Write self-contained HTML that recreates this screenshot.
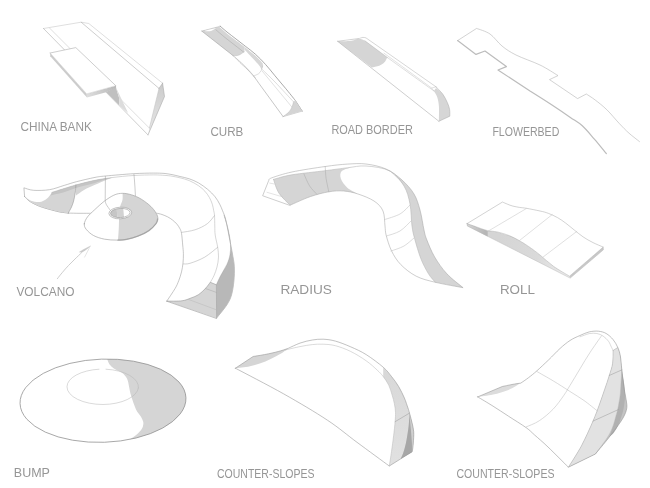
<!DOCTYPE html>
<html lang="en">
<head>
<meta charset="utf-8">
<title>Skatepark elements</title>
<style>
html,body{margin:0;padding:0;background:#fff;}
body{width:650px;height:488px;overflow:hidden;}
svg{display:block;}
text{font-family:"Liberation Sans",sans-serif;font-weight:400;}
path{stroke-linejoin:round;stroke-linecap:round;}
</style>
</head>
<body>
<svg width="650" height="488" viewBox="0 0 650 488">
<defs>
<linearGradient id="gl" x1="0" y1="0" x2="1" y2="0"><stop offset="0" stop-color="#dedede"/><stop offset="1" stop-color="#b8b8b8"/></linearGradient>
<linearGradient id="gf" x1="0" y1="0" x2="0" y2="1"><stop offset="0" stop-color="#cbcbcb"/><stop offset="1" stop-color="#e8e8e8"/></linearGradient>
<linearGradient id="gs" x1="0" y1="0" x2="0" y2="1"><stop offset="0" stop-color="#d8d8d8"/><stop offset="1" stop-color="#e1e1e1"/></linearGradient>
<linearGradient id="gr" x1="0" y1="0" x2="1" y2="0.4"><stop offset="0" stop-color="#d6d6d6"/><stop offset="1" stop-color="#b6b6b6"/></linearGradient>
<linearGradient id="grs" gradientUnits="userSpaceOnUse" x1="500" y1="238" x2="568" y2="274"><stop offset="0" stop-color="#d5d5d5"/><stop offset="0.55" stop-color="#dadada"/><stop offset="1" stop-color="#ebebeb"/></linearGradient>
</defs>
<rect width="650" height="488" fill="#ffffff"/>
<g id="china-bank">
<path d="M43.5 28.5L81.2 22.2L88.8 23.5L162.6 83.2L164.5 96.5L148 134.9Z" fill="#fff" stroke="none" />
<path d="M159 88.4L162.6 83.2L164.5 96.5L148 134.9L149.4 128.1Z" fill="url(#gf)" stroke="none" />
<path d="M43.5 28.5L81.2 22.2L88.8 23.5L162.6 83.2" fill="none" stroke="#bebebe" stroke-width="0.5" />
<path d="M162.6 83.2L164.5 96.5L148 134.9" fill="none" stroke="#a6a6a6" stroke-width="0.55" />
<path d="M43.5 28.5L148 134.9" fill="none" stroke="#a6a6a6" stroke-width="0.55" />
<path d="M159 88.4L162.6 83.2" fill="none" stroke="#a6a6a6" stroke-width="0.55" />
<path d="M159 88.4L149.4 128.1" fill="none" stroke="#bebebe" stroke-width="0.5" />
<path d="M81.2 22.2L159 88.4" fill="none" stroke="#a6a6a6" stroke-width="0.55" />
<path d="M49.6 28.1L149.4 128.1" fill="none" stroke="#bebebe" stroke-width="0.5" />
<path d="M106.1 91.9L115.8 87L119.4 99L119.4 105.5Z" fill="#c0c0c0" stroke="none" />
<path d="M115.8 87L128.1 112.9L119.4 105.5L119.4 99Z" fill="#dcdcdc" stroke="none" />
<path d="M50.1 53L86.7 93.9L87 97.6L50.3 56.2Z" fill="#cccccc" stroke="none" />
<path d="M86.7 93.9L115.8 85.7L116.2 87.4L106.1 92.2L87 97.6Z" fill="url(#gl)" stroke="none" />
<path d="M50.1 53L75.8 47.6L115.8 85.7L86.7 93.9Z" fill="#fff" stroke="none" />
<path d="M50.1 53L75.8 47.6L115.8 85.7" fill="none" stroke="#a6a6a6" stroke-width="0.55" />
<path d="M50.1 53L86.7 93.9L115.8 85.7" fill="none" stroke="#b6b6b6" stroke-width="0.4" />
</g>
<g id="curb">
<path d="M201.8 31.1L217.2 27.1L220.2 26.2C221.3 27.2 224.4 29.9 227 32C229.6 34.1 232.9 36.6 236 39C239.1 41.4 242.1 43.7 245.3 46.2C248.6 48.8 252.1 51.2 255.5 54.3C258.9 57.3 262.4 60.9 265.6 64.5C268.9 68.1 271.7 71.8 275 75.8C278.3 79.8 282.1 84.2 285.5 88.3C288.9 92.4 293.8 98.5 295.4 100.6L302.2 111.1L283.1 116.6L259 83.5C258.1 82.2 255.5 78.4 253.5 76C251.5 73.6 249.2 71.2 247 69C244.8 66.8 241.8 64.3 240 62.5C238.2 60.7 237.5 59.6 236 58.2C234.5 56.8 231.8 54.7 231 54L201.8 31.1Z" fill="#fff" stroke="none" />
<path d="M201.8 31.1L217.2 27.3L219.5 27.1C220.6 28.1 223.7 30.8 226.3 32.9C228.9 35 232.3 37.6 235.3 39.9C238.3 42.2 242.9 45.5 244.4 46.6L244.4 51.5C243.8 51.9 242.2 53.3 241 54C239.8 54.7 238.8 55.2 237.5 55.5C236.2 55.8 233.9 55.8 233.2 55.9L231 54Z" fill="#d5d5d5" stroke="none" />
<path d="M204 30.9C205 30.9 208 31.6 210 31.2C212 30.8 215.2 28.7 216.2 28.2C215.2 28.3 212 28.2 210 28.6C208 29.1 205 30.5 204 30.9Z" fill="#fff" stroke="none" />
<path d="M244.4 46.6C245.3 47.4 248.2 50 250 51.5C251.8 53 253.5 54 255.2 55.5C256.9 57 258.7 58.9 260 60.2C261.3 61.5 262.3 62.9 262.8 63.4C262.8 63.9 263 65.5 262.8 66.5C262.6 67.5 261.7 68.9 261.5 69.4C261.1 68.7 260.2 66.7 258.8 65C257.4 63.3 255.8 61.7 253.4 59.1C251 56.5 245.9 51.2 244.4 49.6Z" fill="#d7d7d7" stroke="none" />
<path d="M201.8 31.1L231 54C231.8 54.7 234.5 56.8 236 58.2C237.5 59.6 238.2 60.7 240 62.5C241.8 64.3 244.8 66.8 247 69C249.2 71.2 251.5 73.6 253.5 76C255.5 78.4 258.1 82.2 259 83.5L283.1 116.6" fill="none" stroke="#999999" stroke-width="0.55" />
<path d="M201.8 31.1L217.2 27.1L220.2 26.2" fill="none" stroke="#a6a6a6" stroke-width="0.5" />
<path d="M220.2 26.2C221.3 27.2 224.4 29.9 227 32C229.6 34.1 232.9 36.6 236 39C239.1 41.4 242.1 43.7 245.3 46.2C248.6 48.8 252.1 51.2 255.5 54.3C258.9 57.3 262.4 60.9 265.6 64.5C268.9 68.1 271.7 71.8 275 75.8C278.3 79.8 282.1 84.2 285.5 88.3C288.9 92.4 293.8 98.5 295.4 100.6L302.2 111.1" fill="none" stroke="#8e8e8e" stroke-width="0.75" />
<path d="M302.2 111.1L283.1 116.6" fill="none" stroke="#a6a6a6" stroke-width="0.5" />
<path d="M215.9 29.8C217.4 31.1 221.8 34.9 225 37.5C228.2 40.1 231.8 42.8 235 45.3C238.2 47.8 242.4 51.1 243.9 52.3" fill="none" stroke="#a4a4a4" stroke-width="0.5" />
<path d="M262.2 69.5C264.3 71.6 269.8 76.6 275 82C280.2 87.4 290.4 98.5 293.5 101.8" fill="none" stroke="#b6b6b6" stroke-width="0.45" />
<path d="M244.4 51.5C243.8 51.9 242.2 53.3 241 54C239.8 54.7 238.8 55.2 237.5 55.5C236.2 55.8 233.9 55.8 233.2 55.9" fill="none" stroke="#b6b6b6" stroke-width="0.4" />
<path d="M262.6 66C262.4 66.8 261.9 69.2 261.2 70.5C260.5 71.8 259.8 72.9 258.5 73.8C257.2 74.7 254.3 75.6 253.5 76" fill="none" stroke="#b6b6b6" stroke-width="0.45" />
<path d="M262.2 71.1L291.7 106.8" fill="none" stroke="#b6b6b6" stroke-width="0.4" />
<path d="M236 58.2C237.2 59.2 240.8 62 243 64C245.2 66 247.1 68.2 249.2 70.5C251.2 72.8 254.3 76.6 255.3 77.8" fill="none" stroke="#b6b6b6" stroke-width="0.4" />
<path d="M295.4 100.6L302.2 111.1L283.1 116.6C284.1 115.8 287.7 113.4 289.2 111.7C290.7 110 291.6 107.9 292.3 106.2C293 104.5 293.3 102.5 293.5 101.8Z" fill="#d4d4d4" stroke="none" />
<path d="M283.1 116.6C284.1 115.8 287.7 113.4 289.2 111.7C290.7 110 291.6 107.9 292.3 106.2C293 104.5 293.3 102.5 293.5 101.8" fill="none" stroke="#b6b6b6" stroke-width="0.45" />
</g>
<g id="road-border">
<path d="M337.6 41.3L359.5 38.4C360.1 38.2 361.9 37.5 363 37.4C364.1 37.3 365.5 37.8 366 37.9L436.1 86.9C437.2 88.1 440.9 91.6 442.8 94.2C444.7 96.8 446.3 100.2 447.4 102.7C448.5 105.2 449.2 107.2 449.6 109.5C450 111.8 449.8 115.1 449.8 116.2L438.9 121.3Z" fill="#fff" stroke="none" />
<path d="M337.6 41.3L358.1 38.8C358.7 38.9 360.4 38.9 361.5 39.2C362.6 39.5 364.3 40.5 364.9 40.8L387.2 57.4C386.7 58.3 385.5 61.2 384.2 62.6C382.9 64 381.3 64.9 379.2 65.7C377.1 66.5 373 67.2 371.8 67.5Z" fill="#d5d5d5" stroke="none" />
<path d="M339.8 41.2C341.3 41.2 346.1 41.3 349 41C351.9 40.7 356.1 39.5 357.5 39.2C356.1 39.3 351.9 39.3 349 39.6C346.1 39.9 341.3 40.9 339.8 41.2Z" fill="#fff" stroke="none" />
<path d="M337.6 41.3L359.5 38.4C360.1 38.2 361.9 37.5 363 37.4C364.1 37.3 365.5 37.8 366 37.9L436.1 86.9" fill="none" stroke="#b6b6b6" stroke-width="0.55" />
<path d="M337.6 41.3L438.9 121.3" fill="none" stroke="#a6a6a6" stroke-width="0.55" />
<path d="M364.9 40.8L387.2 57.4" fill="none" stroke="#b0b0b0" stroke-width="0.5" />
<path d="M387.2 57.4L433.8 90.9" fill="none" stroke="#b6b6b6" stroke-width="0.45" />
<path d="M384 53.2L431.6 88L436.1 86.9" fill="none" stroke="#b6b6b6" stroke-width="0.4" />
<path d="M433.8 90.9L436.1 88C437.2 89 440.9 91.8 442.8 94.2C444.7 96.7 446.3 100.2 447.4 102.7C448.5 105.2 449.2 107.2 449.6 109.5C450 111.8 449.8 115.1 449.8 116.2L438.9 121.3C438.9 118.8 439.2 110 438.9 106C438.6 102 438 99.5 437.2 97C436.4 94.5 434.4 91.9 433.8 90.9Z" fill="#d6d6d6" stroke="none" />
<path d="M436.1 86.9C437.2 88.1 440.9 91.6 442.8 94.2C444.7 96.8 446.3 100.2 447.4 102.7C448.5 105.2 449.2 107.2 449.6 109.5C450 111.8 449.8 115.1 449.8 116.2L438.9 121.3" fill="none" stroke="#a6a6a6" stroke-width="0.5" />
<path d="M431.6 88L433.8 90.9" fill="none" stroke="#b6b6b6" stroke-width="0.4" />
</g>
<g id="flowerbed">
<path d="M457.6 40.6L476.6 28.4C478.8 29.3 485.8 31.1 490 34C494.2 36.9 497.7 42.5 502 46C506.3 49.5 509.7 51.8 516 55C522.3 58.2 533 61.6 540 65C547 68.4 555 73.8 558 75.6L549.5 79.6L577.6 98.6L586.3 94C587.8 95 591.8 97.4 595.2 100C598.6 102.6 602.9 105.9 606.9 109.8C610.9 113.7 615.5 119.5 619.2 123.4C622.9 127.3 625.6 130.2 629 133.2C632.4 136.2 637.8 140.2 639.5 141.6" fill="none" stroke="#b5b5b5" stroke-width="0.6" />
<path d="M457.6 40.6L476 54.4L485 51L506.4 66.6L498 70L530 91C533.7 93.3 545.3 100.6 552 105C558.7 109.4 565 113.7 570 117.2C575 120.7 578.2 122.1 582.3 125.8C586.4 129.5 590.6 134.8 594.6 139.4C598.6 144 604.3 151.2 606.3 153.5" fill="none" stroke="#bcbcbc" stroke-width="1.2" />
</g>
<g id="volcano">
<path d="M23.9 187.8C25.5 188.2 29.2 190 33.5 190.3C37.8 190.6 44.4 190.5 49.5 189.7C54.6 188.9 59.7 186.7 64.2 185.4C68.7 184.1 71.4 183 76.5 181.7C81.6 180.4 90.2 178.3 95 177.4C99.8 176.5 99.1 176.6 105.5 176C111.9 175.4 125.5 174.2 133.5 173.7C141.6 173.2 148.7 173.1 153.8 173.1C158.9 173.1 161 173.2 164 173.4C167 173.7 169.3 174.1 172 174.6C174.7 175.1 177.1 175.8 180 176.5C182.9 177.2 186.1 177.7 189.2 178.8C192.3 179.9 195.4 181.1 198.5 182.9C201.6 184.7 204.9 187.1 207.7 189.4C210.5 191.7 213.1 194.3 215.1 196.8C217.1 199.3 218.5 201.9 219.7 204.2C220.9 206.5 221.5 208 222.5 210.6C223.5 213.2 224.5 214.7 225.7 219.6C226.9 224.5 228.6 233.9 229.8 240.1C231 246.2 232.2 252.1 232.9 256.5C233.7 260.9 234.1 262.6 234.3 266.7C234.5 270.8 234.4 276.4 233.9 281.1C233.4 285.8 232.7 291 231.5 295C230.3 299 229.3 301.1 226.8 305C224.3 308.9 218.3 315.9 216.6 318.1L166.8 301.1C168.2 299 172.7 293.4 175.1 288.5C177.5 283.6 180.1 277.7 181.5 271.9C182.9 266.1 183.2 258 183.4 253.5C183.6 249 183 248.4 182.7 245C182.4 241.6 182.5 236.8 181.5 233.3C180.5 229.8 179.2 226.9 176.9 224.1C174.6 221.3 171.1 218.5 167.7 216.7C164.3 214.9 164.5 214 156.6 213.4C148.7 212.8 130.8 213.3 120 213.3C109.2 213.3 98.2 213.3 91.5 213.3C84.8 213.3 83.8 213.3 80 213.3C76.2 213.3 71.8 213.3 68.5 213.1C65.2 212.9 62.8 212.5 60 212C57.2 211.5 55.3 210.9 51.9 210C48.5 209.1 43.3 207.7 39.6 206.3C35.9 204.9 32.3 203 29.8 201.4C27.3 199.8 25.5 197.3 24.6 196.5Z" fill="#fff" stroke="none" />
<path d="M24.6 196.5L23.9 187.8C25.5 188.2 29.2 190 33.5 190.3C37.8 190.6 44.4 190.5 49.5 189.7C54.6 188.9 59.7 186.7 64.2 185.4C68.7 184.1 71.4 183 76.5 181.7C81.6 180.4 90.2 178.3 95 177.4C99.8 176.5 99.1 176.6 105.5 176C111.9 175.4 125.5 174.2 133.5 173.7C141.6 173.2 148.7 173.1 153.8 173.1C158.9 173.1 161 173.2 164 173.4C167 173.7 169.3 174.1 172 174.6C174.7 175.1 177.1 175.8 180 176.5C182.9 177.2 186.1 177.7 189.2 178.8C192.3 179.9 195.4 181.1 198.5 182.9C201.6 184.7 204.9 187.1 207.7 189.4C210.5 191.7 213.1 194.3 215.1 196.8C217.1 199.3 218.5 201.9 219.7 204.2C220.9 206.5 221.5 208 222.5 210.6C223.5 213.2 224.5 214.7 225.7 219.6C226.9 224.5 228.6 233.9 229.8 240.1C231 246.2 232.2 252.1 232.9 256.5C233.7 260.9 234.1 262.6 234.3 266.7C234.5 270.8 234.4 276.4 233.9 281.1C233.4 285.8 232.7 291 231.5 295C230.3 299 229.3 301.1 226.8 305C224.3 308.9 218.3 315.9 216.6 318.1" fill="none" stroke="#999999" stroke-width="0.55" />
<path d="M24.6 196.5C25.5 197.3 27.3 199.8 29.8 201.4C32.3 203 35.9 204.9 39.6 206.3C43.3 207.7 48.5 209.1 51.9 210C55.3 210.9 57.2 211.5 60 212C62.8 212.5 67.1 212.9 68.5 213.1" fill="none" stroke="#8c8c8c" stroke-width="0.7" />
<path d="M68.5 213.1C70.4 213.1 76.2 213.3 80 213.3C83.8 213.3 89.6 213.3 91.5 213.3" fill="none" stroke="#999999" stroke-width="0.55" />
<path d="M156.8 213.2C157.7 213.4 160.2 213.9 162 214.5C163.8 215.1 165.9 216 167.7 216.9C169.4 217.8 171 218.8 172.5 220C174 221.2 175.7 222.7 176.9 224.1C178.1 225.5 179 227 179.8 228.5C180.6 230 181 230.6 181.5 233.3C182 236.1 182.4 241.6 182.7 245C183 248.4 183.3 250.5 183.4 253.5C183.5 256.5 183.3 259.9 183 263C182.7 266.1 182.2 269 181.5 271.9C180.8 274.8 179.9 277.7 178.8 280.5C177.7 283.3 177.1 285.1 175.1 288.5C173.1 291.9 168.2 299 166.8 301.1" fill="none" stroke="#999999" stroke-width="0.55" />
<path d="M24.6 196.5C25.7 197.2 28.5 199.9 31 200.8C33.5 201.7 37.1 202.2 39.6 202C42.1 201.8 44.1 200.6 45.8 199.5C47.5 198.4 49 196.4 50 195.2C51 194 51.6 192.9 51.9 192.4C54 191.8 60.2 189.7 64.2 188.5C68.2 187.3 74 185.6 75.9 185C75.8 186.3 75.6 190.3 75.2 193C74.8 195.7 74.2 198.7 73.6 201C73 203.3 72.4 205 71.5 207C70.6 209 68.8 212.1 68.2 213.1C66.8 212.9 62.7 212.5 60 212C57.3 211.5 55.3 210.9 51.9 210C48.5 209.1 43.3 207.7 39.6 206.3C35.9 204.9 32.3 203 29.8 201.4C27.3 199.8 25.5 197.3 24.6 196.5Z" fill="#d5d5d5" stroke="none" />
<path d="M75.9 185C79.1 184.2 88.8 181.5 95 180.3C101.2 179.1 109.8 178.1 112.8 177.6C111.5 178.1 108 179.2 105 180.4C102 181.6 98.5 183.2 95 184.8C91.5 186.4 87.2 188.2 84 190C80.8 191.8 77.3 194.7 76 195.6Z" fill="#d5d5d5" stroke="none" />
<path d="M51.9 192.4C54 191.8 60.2 189.7 64.2 188.5C68.2 187.3 70.8 186.4 75.9 185C81 183.6 89 181.5 95 180.3C101 179.1 109.2 178.1 112 177.6C109.2 178.5 101 181.2 95 182.9C89 184.6 81.1 186.4 75.9 188C70.7 189.6 68.3 191 64 192.2C59.7 193.4 52.5 194.9 50.2 195.4Z" fill="#c4c4c4" stroke="none" />
<path d="M51.9 192.4C54 191.8 60.2 189.7 64.2 188.5C68.2 187.3 70.8 186.4 75.9 185C81 183.6 89 181.5 95 180.3C101 179.1 105.6 178.4 112 177.6C118.4 176.8 126.5 175.9 133.5 175.5C140.5 175.1 148.6 174.9 153.8 174.9C159.1 174.9 162 175.2 165 175.4C168 175.6 169.5 175.8 172 176.2C174.5 176.6 177.1 177.1 180 177.8C182.9 178.5 186.1 179.3 189.2 180.6C192.3 181.9 195.9 183.9 198.5 185.7C201.1 187.5 203.1 189.2 204.9 191.2C206.7 193.2 208.3 195.5 209.5 197.7C210.7 199.9 211.6 202 212.3 204.2C213 206.3 213.3 208.7 213.7 210.6C214.1 212.5 214.3 212.9 214.5 215.5C214.7 218.1 214.7 222.8 214.8 226C214.9 229.2 214.7 231.4 215.2 235C215.7 238.6 217.1 243.6 217.7 247.3C218.2 251 218.6 253.8 218.5 257.1C218.4 260.4 217.8 263.9 217 267C216.2 270.1 215.1 273.1 214 275.6C212.9 278.2 210.9 281.2 210.3 282.3" fill="none" stroke="#b6b6b6" stroke-width="0.55" />
<path d="M75.9 184.8C75.8 186.2 75.6 190.3 75.2 193C74.8 195.7 74.2 198.7 73.6 201C73 203.3 72.4 205 71.5 207C70.6 209 68.8 212.1 68.2 213.1" fill="none" stroke="#999999" stroke-width="0.6" />
<path d="M133.9 174.2C134.1 176 134.6 181.4 134.8 185C135.1 188.6 135.3 194 135.4 195.8" fill="none" stroke="#999999" stroke-width="0.5" />
<path d="M181.5 232.4C183.8 232 190.7 231.2 195 229.8C199.3 228.4 204.1 226.1 207.3 223.7C210.6 221.3 213.3 216.9 214.5 215.5" fill="none" stroke="#b6b6b6" stroke-width="0.6" />
<path d="M183.4 263.9C184.5 263.8 186.4 264.4 190 263.3C193.6 262.2 200.2 259.8 204.8 257.1C209.4 254.4 215.5 248.9 217.7 247.3" fill="none" stroke="#b6b6b6" stroke-width="0.6" />
<path d="M224 215.2C224.3 215.9 224.7 215.4 225.7 219.6C226.7 223.8 228.6 233.9 229.8 240.1C231 246.2 232.2 252.1 232.9 256.5C233.7 260.9 234.1 262.6 234.3 266.7C234.5 270.8 234.4 276.4 233.9 281.1C233.4 285.8 232.7 291 231.5 295C230.3 299 229.3 301.1 226.8 305C224.3 308.9 218.3 315.9 216.6 318.1L216.4 284.8C217.1 283.3 218.9 279 220.7 275.6C222.4 272.2 225.3 268 226.9 264.5C228.5 261 229.4 258 230 254.7C230.6 251.4 230.7 248.1 230.6 244.8C230.5 241.5 229.9 238.3 229.3 235C228.7 231.7 227.9 228.3 227 225C226.1 221.7 224.5 216.8 224 215.2Z" fill="#b8b8b8" stroke="none" />
<path d="M216.4 284.8C217.1 283.3 218.9 279 220.7 275.6C222.4 272.2 225.3 268 226.9 264.5C228.5 261 229.4 258 230 254.7C230.6 251.4 230.7 248.1 230.6 244.8C230.5 241.5 229.9 238.3 229.3 235C228.7 231.7 227.9 228.3 227 225C226.1 221.7 224.5 216.8 224 215.2" fill="none" stroke="#999999" stroke-width="0.4" />
<path d="M166.8 301.1C169.3 301.1 178 301.3 182 300.8C186 300.3 188.2 299 191 298C193.8 297 196.2 296.2 198.6 294.6C201 293 203.4 290.6 205.4 288.5C207.4 286.4 209.5 283.3 210.3 282.3L216.4 284.8L216.6 318.1Z" fill="#d5d5d5" stroke="#999999" stroke-width="0.6"/>
<path d="M205.4 288.5L216.4 292.4" fill="none" stroke="#a8a8a8" stroke-width="0.5" />
<path d="M188.9 299.6L216.4 309.8" fill="none" stroke="#b8b8b8" stroke-width="0.5" />
<path d="M84.3 223.8C84.5 221.8 85.7 219.4 87.4 217C89.2 214.6 91.9 212.3 94.8 209.6C97.7 206.9 101.5 203.3 104.6 201C107.7 198.7 110.5 196.8 113.2 195.5C115.9 194.2 117.9 193.6 120.6 193.4C123.3 193.2 126.1 193.4 129.2 194.2C132.3 194.9 135.8 196.2 139.1 197.9C142.4 199.7 146.2 202.4 148.9 204.7C151.6 207 153.6 209.3 155.1 211.5C156.6 213.7 157.6 215.7 157.8 217.6C158 219.5 157.8 221 156.3 223.2C154.8 225.3 152 228.3 148.9 230.5C145.8 232.7 141.5 234.7 137.8 236.1C134.1 237.5 130.3 238.5 126.8 239.2C123.3 239.9 120.6 240.1 116.9 240.1C113.2 240.1 108.5 240 104.6 239.2C100.7 238.4 96.6 237.2 93.5 235.5C90.4 233.8 87.7 231.2 86.2 229.3C84.7 227.4 84.1 225.9 84.3 223.8Z" fill="#fff" stroke="none" />
<clipPath id="cc"><path d="M84.3 223.8C84.5 221.8 85.7 219.4 87.4 217C89.2 214.6 91.9 212.3 94.8 209.6C97.7 206.9 101.5 203.3 104.6 201C107.7 198.7 110.5 196.8 113.2 195.5C115.9 194.2 117.9 193.6 120.6 193.4C123.3 193.2 126.1 193.4 129.2 194.2C132.3 194.9 135.8 196.2 139.1 197.9C142.4 199.7 146.2 202.4 148.9 204.7C151.6 207 153.6 209.3 155.1 211.5C156.6 213.7 157.6 215.7 157.8 217.6C158 219.5 157.8 221 156.3 223.2C154.8 225.3 152 228.3 148.9 230.5C145.8 232.7 141.5 234.7 137.8 236.1C134.1 237.5 130.3 238.5 126.8 239.2C123.3 239.9 120.6 240.1 116.9 240.1C113.2 240.1 108.5 240 104.6 239.2C100.7 238.4 96.6 237.2 93.5 235.5C90.4 233.8 87.7 231.2 86.2 229.3C84.7 227.4 84.1 225.9 84.3 223.8Z"/></clipPath>
<path d="M122.5 192C122.5 193.3 122.9 197.3 122.5 199.8C122.1 202.3 120.6 204.1 120 207.2C119.4 210.3 119.3 214.7 119.1 218.2C118.9 221.7 119 224.3 118.8 228.1C118.6 231.9 118.1 238.8 117.9 241L160 241L160 192Z" fill="#d5d5d5" stroke="none" clip-path="url(#cc)"/>
<path d="M157.6 219C157.3 219.8 157.4 221.7 156 223.6C154.6 225.5 151.9 228.5 148.9 230.6C145.9 232.7 141.5 234.8 137.8 236.2C134.1 237.6 130.1 238.6 126.8 239.3C123.5 240 119.5 240 118 240.2" fill="none" stroke="#b4b4b4" stroke-width="1.3" />
<path d="M84.3 223.8C84.5 221.8 85.7 219.4 87.4 217C89.2 214.6 91.9 212.3 94.8 209.6C97.7 206.9 101.5 203.3 104.6 201C107.7 198.7 110.5 196.8 113.2 195.5C115.9 194.2 117.9 193.6 120.6 193.4C123.3 193.2 126.1 193.4 129.2 194.2C132.3 194.9 135.8 196.2 139.1 197.9C142.4 199.7 146.2 202.4 148.9 204.7C151.6 207 153.6 209.3 155.1 211.5C156.6 213.7 157.6 215.7 157.8 217.6C158 219.5 157.8 221 156.3 223.2C154.8 225.3 152 228.3 148.9 230.5C145.8 232.7 141.5 234.7 137.8 236.1C134.1 237.5 130.3 238.5 126.8 239.2C123.3 239.9 120.6 240.1 116.9 240.1C113.2 240.1 108.5 240 104.6 239.2C100.7 238.4 96.6 237.2 93.5 235.5C90.4 233.8 87.7 231.2 86.2 229.3C84.7 227.4 84.1 225.9 84.3 223.8Z" fill="none" stroke="#999999" stroke-width="0.6" />
<g transform="rotate(-3 120.3 213)">
<ellipse cx="120.3" cy="213" rx="11.4" ry="5.8" fill="#fff" stroke="#9a9a9a" stroke-width="0.6"/>
<clipPath id="hc"><ellipse cx="120.3" cy="213" rx="9.8" ry="4.6"/></clipPath>
<g clip-path="url(#hc)"><rect x="109" y="207" width="8" height="12" fill="#c6c6c6"/><rect x="117" y="207" width="6.8" height="12" fill="#d2d2d2"/><rect x="123.8" y="207" width="8" height="12" fill="#fff"/></g>
<ellipse cx="120.3" cy="213" rx="9.8" ry="4.6" fill="none" stroke="#9a9a9a" stroke-width="0.6"/>
</g>
<path d="M105.4 176.3L105.2 201C105.4 201.6 105.5 203 106.3 204.5C107.1 206 109.5 209.2 110.2 210.2" fill="none" stroke="#999999" stroke-width="0.5" />
<path d="M57.4 278.7C58.2 277.6 60.6 274.5 62.5 272.3C64.3 270.1 66.4 267.7 68.5 265.5C70.6 263.3 72.8 261.1 75 259C77.2 256.9 80.3 253.9 81.4 252.9" fill="none" stroke="#c2c2c2" stroke-width="0.8" />
<path d="M79.3 252.1C80.2 251.6 82.6 250 84.5 249C86.4 248 89.6 246.4 90.6 245.9C89.9 246.6 87.7 248.7 86.2 249.8C84.7 251 82.4 252.3 81.6 252.8Z" fill="#cacaca" stroke="none" />
<path d="M79.3 252.1C80.2 251.6 82.6 250 84.5 249C86.4 248 89.6 246.4 90.6 245.9" fill="none" stroke="#c4c4c4" stroke-width="0.4" />
<path d="M84.6 257.1C85.1 256.2 86.6 253.2 87.5 251.5C88.4 249.8 89.5 247.4 89.9 246.6" fill="none" stroke="#cacaca" stroke-width="0.5" />
</g>
<g id="radius">
<path d="M262.8 195.4L268.8 180.3C269.3 179.9 267.8 179.3 271.6 177.9C275.5 176.5 283 173.9 291.9 172C300.8 170.1 316 167.8 325.2 166.5C334.4 165.2 340.5 164.5 347.3 164.1C354.1 163.7 359.6 163.2 366 164C372.4 164.8 380 166.3 386 169C392 171.7 397.3 175.8 402 180C406.7 184.2 411 189 414 194C417 199 418.3 204 420 210C421.7 216 422.9 225 424 230C425.1 235 425.1 235.5 426.9 240C428.7 244.5 431.3 251.3 434.6 256.9C437.9 262.5 442.1 268.7 446.9 273.8C451.6 278.9 460.4 285.4 463.1 287.7C458.5 286.8 443.2 284.2 435.4 282.3C427.6 280.4 422 279.1 416.2 276.2C410.4 273.2 404.9 268.8 400.8 264.6C396.7 260.4 393.9 255.7 391.5 250.8C389.1 245.9 387.3 239.5 386.2 235.4C385.1 231.3 385.5 230.1 385 226C384.5 221.9 384.8 215.2 383 211C381.2 206.8 378.2 203.8 374 201C369.8 198.2 363.1 195.7 358 194C352.9 192.3 348.5 191.4 343.6 191C338.7 190.6 334.3 190.9 328.8 191.8C323.3 192.7 316.8 194.4 310.4 196.6C303.9 198.8 293.5 203.8 290.1 205.2Z" fill="#fff" stroke="none" />
<path d="M273.5 179.4C276.6 178.6 283.3 176.2 291.9 174.8C300.5 173.4 315.3 171.9 325.2 170.7C335.1 169.5 346.7 167.9 351 167.4C349.5 168 343.5 169.2 341.8 171.1C340.1 172.9 339.9 175.7 340.8 178.5C341.7 181.3 344.5 185.2 347.3 187.7C350.1 190.2 355.8 192.6 357.5 193.6C355.2 193.2 348.4 191.3 343.6 191C338.8 190.7 334.3 190.9 328.8 191.8C323.3 192.7 316.8 194.4 310.4 196.6C303.9 198.8 293.5 203.8 290.1 205.2C288.2 203.2 281.8 197.5 279 193.2C276.2 188.9 274.4 181.7 273.5 179.4Z" fill="#d5d5d5" stroke="none" />
<path d="M388 170C390.3 171.7 397.7 176 402 180C406.3 184 411 189 414 194C417 199 418.3 204 420 210C421.7 216 422.9 225 424 230C425.1 235 425.1 235.5 426.9 240C428.7 244.5 431.3 251.3 434.6 256.9C437.9 262.5 442.1 268.7 446.9 273.8C451.6 278.9 460.4 285.4 463.1 287.7L435.4 282.3C434.2 280.9 430.9 277.8 428.5 273.8C426.1 269.8 423.1 264.4 420.8 258.5C418.5 252.6 416.1 243.9 414.6 238.5C413.1 233.1 412.8 231.8 412 226C411.2 220.2 411.3 210.7 410 204C408.7 197.3 407.3 191.5 404 186C400.7 180.5 392.3 173.5 390 171Z" fill="#d5d5d5" stroke="none" />
<path d="M273.5 179.4C276.6 178.6 283.3 176.2 291.9 174.8C300.5 173.4 316 171.9 325.2 170.7C334.4 169.5 340.5 168.6 347.3 167.8C354.1 167 358.9 165.5 366 166C373.1 166.5 383.7 167.7 390 171C396.3 174.3 400.7 180.5 404 186C407.3 191.5 408.7 197.3 410 204C411.3 210.7 411.2 220.2 412 226C412.8 231.8 413.1 233.1 414.6 238.5C416.1 243.9 418.5 252.6 420.8 258.5C423.1 264.4 426.1 269.8 428.5 273.8C430.9 277.8 434.2 280.9 435.4 282.3" fill="none" stroke="#b8b8b8" stroke-width="0.6" />
<path d="M262.8 195.4L268.8 180.3C269.3 179.9 267.8 179.3 271.6 177.9C275.5 176.5 283 173.9 291.9 172C300.8 170.1 316 167.8 325.2 166.5C334.4 165.2 340.5 164.5 347.3 164.1C354.1 163.7 359.6 163.2 366 164C372.4 164.8 380 166.3 386 169C392 171.7 397.3 175.8 402 180C406.7 184.2 411 189 414 194C417 199 418.3 204 420 210C421.7 216 422.9 225 424 230C425.1 235 425.1 235.5 426.9 240C428.7 244.5 431.3 251.3 434.6 256.9C437.9 262.5 442.1 268.7 446.9 273.8C451.6 278.9 460.4 285.4 463.1 287.7C458.5 286.8 443.2 284.2 435.4 282.3C427.6 280.4 422 279.1 416.2 276.2C410.4 273.2 404.9 268.8 400.8 264.6C396.7 260.4 393.9 255.7 391.5 250.8C389.1 245.9 387.3 239.5 386.2 235.4C385.1 231.3 385.5 230.1 385 226C384.5 221.9 384.8 215.2 383 211C381.2 206.8 378.2 203.8 374 201C369.8 198.2 363.1 195.7 358 194C352.9 192.3 348.5 191.4 343.6 191C338.7 190.6 334.3 190.9 328.8 191.8C323.3 192.7 316.8 194.4 310.4 196.6C303.9 198.8 293.5 203.8 290.1 205.2Z" fill="none" stroke="#a6a6a6" stroke-width="0.55" />
<path d="M273.5 179.4C274.4 181.7 276.2 188.9 279 193.2C281.8 197.5 288.2 203.2 290.1 205.2" fill="none" stroke="#b8b8b8" stroke-width="0.6" />
<path d="M267 192.3L282.7 196.9" fill="none" stroke="#c8c8c8" stroke-width="0.5" />
<path d="M269.8 183.1L274.4 184" fill="none" stroke="#c8c8c8" stroke-width="0.5" />
<path d="M303.9 173.8C304.8 175.8 307.4 182.4 309.5 185.8C311.6 189.2 315.6 192.8 316.8 194.2" fill="none" stroke="#a8a8a8" stroke-width="0.5" />
<path d="M325.2 166.5C325.4 168.5 325.5 174.3 326.1 178.5C326.7 182.7 328.4 189.6 328.8 191.8" fill="none" stroke="#a8a8a8" stroke-width="0.5" />
<path d="M384.4 219.6C387 218.7 395.7 216.4 400 214C404.3 211.6 408.3 206.5 410 205" fill="none" stroke="#c4c4c4" stroke-width="0.6" />
<path d="M386.4 236C388.7 235.2 395.9 233.5 400 231C404.1 228.5 409.2 222.7 411 221" fill="none" stroke="#c4c4c4" stroke-width="0.6" />
<path d="M391 251C393.2 250.2 400.2 248.2 404 246C407.8 243.8 412.3 239.3 414 238" fill="none" stroke="#c4c4c4" stroke-width="0.6" />
</g>
<g id="roll">
<path d="M467.1 223.6C468.9 224.2 474.6 226.3 478 227.5C481.4 228.7 484.6 230 487.7 230.7C490.8 231.4 493.3 231.1 496.9 231.9C500.5 232.7 505.5 234.2 509.2 235.6C512.9 237 515.8 238.7 519.1 240.5C522.4 242.3 525.4 244.3 528.9 246.7C532.4 249.1 535.9 251.7 540 255C544.1 258.3 548.6 262.8 553.5 266.3C558.4 269.8 566.8 274.6 569.5 276.2L570.2 278.1L467.4 226Z" fill="url(#grs)" stroke="none" />
<path d="M467.1 223.6C468.9 224.2 474.6 226.3 478 227.5C481.4 228.7 486.1 230.2 487.7 230.7L487.7 236.4L467.4 226Z" fill="url(#gr)" stroke="none" />
<path d="M569.5 276.2L603.2 247.1L603.4 249.8L570.2 278.1Z" fill="#c8c8c8" stroke="none" />
<path d="M467.1 223.6L502.5 202C503.3 202.4 505.8 203.5 507.5 204.2C509.2 204.9 510.9 205.6 512.9 206.1C514.9 206.6 517.2 207 519.5 207.4C521.8 207.8 523.1 207.7 526.5 208.3C529.9 208.9 536.3 210.2 540 211C543.7 211.8 545.6 212.3 548.5 213.4C551.4 214.5 554.6 216 557.5 217.6C560.4 219.2 563 221.1 565.8 223.2C568.6 225.3 571.6 227.9 574.5 230.2C577.4 232.5 579.9 234.7 583 236.8C586.1 238.9 589.6 240.9 593 242.6C596.4 244.3 601.5 246.3 603.2 247.1L569.5 276.2C566.8 274.6 558.4 269.8 553.5 266.3C548.6 262.8 544.1 258.3 540 255C535.9 251.7 532.4 249.1 528.9 246.7C525.4 244.3 522.4 242.3 519.1 240.5C515.8 238.7 512.9 237 509.2 235.6C505.5 234.2 500.5 232.7 496.9 231.9C493.3 231.1 490.8 231.4 487.7 230.7C484.6 230 481.4 228.7 478 227.5C474.6 226.3 468.9 224.2 467.1 223.6Z" fill="#fff" stroke="none" />
<path d="M467.1 223.6L502.5 202C503.3 202.4 505.8 203.5 507.5 204.2C509.2 204.9 510.9 205.6 512.9 206.1C514.9 206.6 517.2 207 519.5 207.4C521.8 207.8 523.1 207.7 526.5 208.3C529.9 208.9 536.3 210.2 540 211C543.7 211.8 545.6 212.3 548.5 213.4C551.4 214.5 554.6 216 557.5 217.6C560.4 219.2 563 221.1 565.8 223.2C568.6 225.3 571.6 227.9 574.5 230.2C577.4 232.5 579.9 234.7 583 236.8C586.1 238.9 589.6 240.9 593 242.6C596.4 244.3 601.5 246.3 603.2 247.1L569.5 276.2C566.8 274.6 558.4 269.8 553.5 266.3C548.6 262.8 544.1 258.3 540 255C535.9 251.7 532.4 249.1 528.9 246.7C525.4 244.3 522.4 242.3 519.1 240.5C515.8 238.7 512.9 237 509.2 235.6C505.5 234.2 500.5 232.7 496.9 231.9C493.3 231.1 490.8 231.4 487.7 230.7C484.6 230 481.4 228.7 478 227.5C474.6 226.3 468.9 224.2 467.1 223.6Z" fill="none" stroke="#a6a6a6" stroke-width="0.5" />
<path d="M467.1 223.6L467.4 226L570.2 278.1L603.4 249.8L603.2 247.1" fill="none" stroke="#b8b8b8" stroke-width="0.5" />
<path d="M488.2 231.1L526.4 208.5" fill="none" stroke="#c0c0c0" stroke-width="0.5" />
<path d="M519.5 240.5L552.2 214.6" fill="none" stroke="#c0c0c0" stroke-width="0.5" />
<path d="M543.1 257L576.8 231.4" fill="none" stroke="#c0c0c0" stroke-width="0.5" />
</g>
<g id="bump">
<clipPath id="bc"><ellipse cx="103" cy="400.7" rx="83" ry="41.6" transform="rotate(-2 103 400.7)"/></clipPath>
<ellipse cx="103" cy="400.7" rx="83" ry="41.6" transform="rotate(-2 103 400.7)" fill="#fff" stroke="none"/>
<path d="M106.3 356C106.7 357.1 107.7 360.8 108.5 362.5C109.3 364.2 110.2 365.2 111.4 366.4C112.7 367.6 114.3 368.8 116 369.8C117.7 370.8 120.1 371.5 121.6 372.5C123.1 373.5 124.2 374.6 125.2 376C126.2 377.4 126.8 377.5 127.8 380.7C128.8 383.9 129.5 390.3 130.9 395.1C132.3 399.9 134.4 405.9 136 409.4C137.6 412.9 139.3 413.9 140.5 416C141.7 418.1 142.8 420 143.2 421.7C143.6 423.4 143.3 424.6 143 426C142.7 427.4 142.3 428.3 141.1 429.9C139.8 431.5 137.6 433.8 135.5 435.5C133.4 437.2 130.4 438.9 128.8 440.2C127.2 441.4 126.5 442.5 126 443L190 445L190 355Z" fill="#d5d5d5" stroke="none" clip-path="url(#bc)"/>
<ellipse cx="103" cy="400.7" rx="83" ry="41.6" transform="rotate(-2 103 400.7)" fill="none" stroke="#8c8c8c" stroke-width="0.75"/>
<path d="M138.4 388 A36 17.7 0 0 0 106 369.2 M99 369.2 A36 17.7 0 0 0 67 386.8 A36 17.7 0 0 0 103 404.5 A36 17.7 0 0 0 138.4 388" fill="none" stroke="#b4b4b4" stroke-width="0.5"/>
</g>
<g id="cs1">
<path d="M235.4 368.2L253.1 356.5C255.7 356.1 263.9 354.8 268.5 353.8C273.1 352.9 277.5 351.7 280.8 350.8C284.1 349.9 287.2 348.6 288.5 348.2C290.4 347.4 296 344.5 300 343.1C304 341.7 308.4 340.6 312.3 340C316.2 339.4 319.2 339 323.1 339.2C327 339.4 330.8 339.8 335.4 341.1C340 342.4 345.7 344.6 350.8 346.9C355.9 349.1 360.8 351.2 366.2 354.6C371.6 358 379 363.6 383.2 367.2C387.4 370.8 388.9 373.3 391.5 376.5C394.1 379.7 396.6 383 398.7 386.6C400.8 390.2 402.8 394.4 404.4 398C405.9 401.6 407.1 405.6 408 408.1C408.9 410.6 408.9 411 409.5 413.1C410.1 415.2 410.9 417.9 411.6 421C412.3 424.1 413.4 427.9 413.7 431.6C414 435.3 413.5 439.7 413.3 443C413.1 446.3 412.5 450.2 412.3 451.6L400.8 458.8L389.3 466C383.9 462.1 367.3 449.9 357 442.3C346.7 434.7 339.8 428.4 327.6 420.3C315.4 412.2 299.1 402.6 283.7 393.9C268.3 385.2 243.4 372.5 235.4 368.2Z" fill="#fff" stroke="none" />
<path d="M235.4 368.2L253.1 356.5C255.7 356.1 263.9 354.8 268.5 353.8C273.1 352.9 277.5 351.7 280.8 350.8C284.1 349.9 287.2 348.6 288.5 348.2C286.9 349.3 283.1 352.4 279.2 354.6C275.3 356.8 270.3 359.6 265.4 361.5C260.5 363.4 255 365.1 250 366.2C245 367.3 237.8 367.9 235.4 368.2Z" fill="#d5d5d5" stroke="none" />
<path d="M383.2 367.2C384.6 368.8 388.9 373.3 391.5 376.5C394.1 379.7 396.6 383 398.7 386.6C400.8 390.2 402.8 394.4 404.4 398C405.9 401.6 407.1 405.6 408 408.1C408.9 410.6 408.9 411 409.5 413.1C410.1 415.2 410.9 417.9 411.6 421C412.3 424.1 413.4 427.9 413.7 431.6C414 435.3 413.5 439.7 413.3 443C413.1 446.3 412.5 450.2 412.3 451.6L400.8 458.8L389.3 466C389.7 463.6 390.8 456.6 391.5 451.6C392.2 446.6 393 440.9 393.6 435.9C394.2 430.9 394.8 425.6 395.1 421.7C395.4 417.8 395.6 415.4 395.5 412.4C395.4 409.4 394.9 406.7 394.4 403.8C393.8 400.9 393.1 398.3 392.2 395.2C391.2 392.1 390.2 388.2 388.7 385.1C387.2 382 384.1 377.9 383.2 376.5Z" fill="url(#gs)" stroke="none" />
<path d="M409.4 413.2C409.8 414.5 410.9 417.9 411.6 421C412.3 424.1 413.4 427.9 413.7 431.6C414 435.3 413.5 439.7 413.3 443C413.1 446.3 412.5 450.2 412.3 451.6L400.8 458.8C401.3 457.6 402.8 454.7 403.7 451.6C404.6 448.5 405.7 444.5 406.5 440.2C407.3 435.9 408.2 430.3 408.7 425.8C409.2 421.3 409.3 415.3 409.4 413.2Z" fill="#cfcfcf" stroke="none" />
<path d="M409.4 413.5C409.6 416 410.4 423.8 410.8 428.7C411.2 433.6 411.7 439.1 411.9 443C412.1 446.9 411.9 450.7 411.9 452.2L400.8 458.8C401.3 457.6 402.8 454.7 403.7 451.6C404.6 448.5 405.7 444.5 406.5 440.2C407.3 435.9 408.2 430.2 408.7 425.8C409.2 421.4 409.3 415.6 409.4 413.5Z" fill="#a7a7a7" stroke="none" />
<path d="M285.4 350C287.8 349.4 295.5 347.5 300 346.6C304.5 345.7 308.4 345 312.3 344.6C316.2 344.2 319.2 344 323.1 344.2C327 344.4 330.8 344.5 335.4 345.7C340 346.9 345.7 349 350.8 351.5C355.9 354 361.8 357.7 366.2 360.8C370.6 363.9 374.4 367.5 377.2 370.1C380 372.7 381.3 374 383.2 376.5C385.1 379 387.2 382 388.7 385.1C390.2 388.2 391.2 392.1 392.2 395.2C393.1 398.3 393.8 400.9 394.4 403.8C394.9 406.7 395.4 409.4 395.5 412.4C395.6 415.4 395.4 417.8 395.1 421.7C394.8 425.6 394.2 430.9 393.6 435.9C393 440.9 392.2 446.6 391.5 451.6C390.8 456.6 389.7 463.6 389.3 466" fill="none" stroke="#b6b6b6" stroke-width="0.5" />
<path d="M395.1 421.7L409.5 413.1" fill="none" stroke="#999999" stroke-width="0.5" />
<path d="M235.4 368.2L253.1 356.5C255.7 356.1 263.9 354.8 268.5 353.8C273.1 352.9 277.5 351.7 280.8 350.8C284.1 349.9 287.2 348.6 288.5 348.2C290.4 347.4 296 344.5 300 343.1C304 341.7 308.4 340.6 312.3 340C316.2 339.4 319.2 339 323.1 339.2C327 339.4 330.8 339.8 335.4 341.1C340 342.4 345.7 344.6 350.8 346.9C355.9 349.1 360.8 351.2 366.2 354.6C371.6 358 379 363.6 383.2 367.2C387.4 370.8 388.9 373.3 391.5 376.5C394.1 379.7 396.6 383 398.7 386.6C400.8 390.2 402.8 394.4 404.4 398C405.9 401.6 407.1 405.6 408 408.1C408.9 410.6 408.9 411 409.5 413.1C410.1 415.2 410.9 417.9 411.6 421C412.3 424.1 413.4 427.9 413.7 431.6C414 435.3 413.5 439.7 413.3 443C413.1 446.3 412.5 450.2 412.3 451.6L400.8 458.8L389.3 466C383.9 462.1 367.3 449.9 357 442.3C346.7 434.7 339.8 428.4 327.6 420.3C315.4 412.2 299.1 402.6 283.7 393.9C268.3 385.2 243.4 372.5 235.4 368.2Z" fill="none" stroke="#999999" stroke-width="0.6" />
</g>
<g id="cs2">
<path d="M477.7 396.9L502.3 386.5C503.9 386.2 508.9 385.1 512 384.5C515.1 383.9 519.3 383.3 520.8 383.1C522.1 382.2 525.8 379.8 528.5 377.7C531.2 375.6 533.6 373.8 536.9 370.8C540.2 367.9 544.6 363.7 548.5 360C552.4 356.3 556.4 351.8 560 348.5C563.6 345.2 566.7 342.7 570 340.5C573.3 338.3 576.8 336.9 580 335.5C583.2 334.1 586.1 332.6 589.2 331.9C592.3 331.2 595.7 330.9 598.5 331.2C601.3 331.5 603.8 332.1 606.2 333.5C608.6 334.9 611.2 337.3 613.1 339.6C615 341.9 616.5 344.6 617.7 347.3C618.9 350 619.6 352.1 620.3 355.8C621 359.5 621.2 364.5 621.8 369.6C622.4 374.7 623.2 382.3 623.8 386.5C624.4 390.7 624.8 392.1 625.3 395C625.8 397.9 626.6 401.6 626.8 404.2C627 406.8 626.9 408.1 626.3 410.4C625.7 412.7 624.6 415.2 623 418C621.4 420.8 619.6 423.3 616.8 427.2C614 431.1 609.7 436.6 606.1 441.1C602.5 445.6 597.1 451.9 595.3 454.1L568.4 467.2C565 463.8 553.6 452.4 548 447C542.4 441.6 538.2 438.2 534.6 435C531 431.8 530.6 430.8 526.2 427.7C521.9 424.6 514 419.8 508.5 416.2C503 412.6 498.2 409.4 493.1 406.2C488 403 480.3 398.4 477.7 396.9Z" fill="#fff" stroke="none" />
<path d="M477.7 396.9L502.3 386.5C503.9 386.2 508.9 385.1 512 384.5C515.1 383.9 519.3 383.3 520.8 383.1C518.8 384.2 513.1 388.1 508.5 390C503.9 391.9 498.2 393.5 493.1 394.6C488 395.8 480.3 396.5 477.7 396.9Z" fill="#dcdcdc" stroke="none" />
<path d="M613.1 350.4L617.7 347.6C618.1 349 619.6 352.1 620.3 355.8C621 359.5 621.2 364.5 621.8 369.6C622.4 374.7 623.2 382.3 623.8 386.5C624.4 390.7 624.8 392.1 625.3 395C625.8 397.9 626.6 401.6 626.8 404.2C627 406.8 626.9 408.1 626.3 410.4C625.7 412.7 624.6 415.2 623 418C621.4 420.8 619.6 423.3 616.8 427.2C614 431.1 609.7 436.6 606.1 441.1C602.5 445.6 597.1 451.9 595.3 454.1L568.4 467.2C570.6 463.6 577.4 453.4 581.5 445.7C585.6 438 590 428.1 593 421.1C596 414.2 597.7 409.2 599.6 404C601.5 398.8 603 394.3 604.6 389.6C606.2 384.9 607.9 380.2 609.2 375.8C610.5 371.4 612 367.7 612.6 363.5C613.2 359.3 613 352.6 613.1 350.4Z" fill="#c3c3c3" stroke="none" />
<path d="M621.8 369.9C622.1 371.6 623.1 377 623.6 380C624.1 383 624.4 385.5 624.6 388C624.9 390.5 625.1 392.6 625.1 395C625.1 397.4 624.8 399.8 624.5 402.4C624.2 405 623.8 407.7 623.2 410.4C622.6 413.1 621.6 416 620.8 418.4C620 420.8 619.4 422.6 618.3 425C617.2 427.4 615.5 430.5 614 432.5C612.5 434.5 609.8 436.2 609 437C609.4 436 610.8 433 611.5 431C612.2 429 612.7 427.4 613.4 425C614.1 422.6 615.1 419.1 615.8 416.5C616.5 413.9 617.2 411.8 617.7 409.5C618.2 407.2 618.5 405.4 618.9 403C619.3 400.6 619.9 397.8 620.2 395C620.5 392.2 620.5 390.7 620.8 386.5C621.1 382.3 621.6 372.7 621.8 369.9Z" fill="#b1b1b1" stroke="none" />
<path d="M613.1 350.4L617.7 347.6C618.1 349 619.6 352.1 620.3 355.8C621 359.5 621.5 367.5 621.8 369.9C621.6 372.7 621.1 382.3 620.8 386.5C620.5 390.7 620.5 392.2 620.2 395C619.9 397.8 619.3 400.6 618.9 403C618.5 405.4 618.2 407.2 617.7 409.5C617.2 411.8 616.5 413.9 615.8 416.5C615.1 419.1 614.3 422.4 613.4 425C612.5 427.6 611.7 429.6 610.5 432C609.3 434.4 608.6 435.8 606.1 439.5C603.6 443.2 597.1 451.7 595.3 454.1L568.4 467.2C570.6 463.6 577.4 453.4 581.5 445.7C585.6 438 590 428.1 593 421.1C596 414.2 597.7 409.2 599.6 404C601.5 398.8 603 394.3 604.6 389.6C606.2 384.9 607.9 380.2 609.2 375.8C610.5 371.4 612 367.7 612.6 363.5C613.2 359.3 613 352.6 613.1 350.4Z" fill="#e2e2e2" stroke="none" />
<path d="M621.8 369.9C621.6 372.7 621.1 382.3 620.8 386.5C620.5 390.7 620.5 392.2 620.2 395C619.9 397.8 619.3 400.6 618.9 403C618.5 405.4 618.2 407.2 617.7 409.5C617.2 411.8 616.5 413.9 615.8 416.5C615.1 419.1 614.3 422.4 613.4 425C612.5 427.6 611.7 429.6 610.5 432C609.3 434.4 608.6 435.8 606.1 439.5C603.6 443.2 597.1 451.7 595.3 454.1" fill="none" stroke="#b0b0b0" stroke-width="0.4" />
<path d="M613.1 350.4C613 352.6 613.2 359.3 612.6 363.5C612 367.7 610.5 371.4 609.2 375.8C607.9 380.2 606.2 384.9 604.6 389.6C603 394.3 601.5 398.8 599.6 404C597.7 409.2 596 414.2 593 421.1C590 428.1 585.6 438 581.5 445.7C577.4 453.4 570.6 463.6 568.4 467.2" fill="none" stroke="#b6b6b6" stroke-width="0.6" />
<path d="M613.1 350.4L617.7 347.6" fill="none" stroke="#b6b6b6" stroke-width="0.5" />
<path d="M580 336.8C581.5 336.3 586.4 334.2 589.2 333.6C592 333.1 594.6 333.1 596.9 333.5C599.2 333.9 601.2 334.8 603.1 336.1C605 337.4 607.1 339.3 608.5 341.2C609.9 343.1 610.7 345.8 611.5 347.3C612.3 348.8 612.8 349.9 613.1 350.4" fill="none" stroke="#b6b6b6" stroke-width="0.5" />
<path d="M609.2 375.5L621.8 369.9" fill="none" stroke="#999999" stroke-width="0.5" />
<path d="M593 421.1L618.3 409.6" fill="none" stroke="#999999" stroke-width="0.5" />
<path d="M536.9 371.5C539.6 373.1 547.6 377.5 553.1 380.8C558.6 384.1 564.9 388.2 570 391.5C575.1 394.8 579.5 397.3 584 400.5C588.5 403.7 595.1 409.2 597.3 410.9" fill="none" stroke="#b6b6b6" stroke-width="0.5" />
<path d="M526.2 426.9C528.4 425.9 534.7 423.8 539.2 420.8C543.7 417.9 549 413.4 553.1 409.2C557.2 405 561 399.4 563.8 395.4C566.6 391.4 567.3 389.8 570 385.4C572.7 381 576.7 374.3 580 368.8C583.3 363.3 586.4 358 590 352.5C593.6 347 599.6 338.6 601.5 335.8" fill="none" stroke="#b6b6b6" stroke-width="0.5" />
<path d="M477.7 396.9L502.3 386.5C503.9 386.2 508.9 385.1 512 384.5C515.1 383.9 519.3 383.3 520.8 383.1C522.1 382.2 525.8 379.8 528.5 377.7C531.2 375.6 533.6 373.8 536.9 370.8C540.2 367.9 544.6 363.7 548.5 360C552.4 356.3 556.4 351.8 560 348.5C563.6 345.2 566.7 342.7 570 340.5C573.3 338.3 576.8 336.9 580 335.5C583.2 334.1 586.1 332.6 589.2 331.9C592.3 331.2 595.7 330.9 598.5 331.2C601.3 331.5 603.8 332.1 606.2 333.5C608.6 334.9 611.2 337.3 613.1 339.6C615 341.9 616.5 344.6 617.7 347.3C618.9 350 619.6 352.1 620.3 355.8C621 359.5 621.2 364.5 621.8 369.6C622.4 374.7 623.2 382.3 623.8 386.5C624.4 390.7 624.8 392.1 625.3 395C625.8 397.9 626.6 401.6 626.8 404.2C627 406.8 626.9 408.1 626.3 410.4C625.7 412.7 624.6 415.2 623 418C621.4 420.8 619.6 423.3 616.8 427.2C614 431.1 609.7 436.6 606.1 441.1C602.5 445.6 597.1 451.9 595.3 454.1L568.4 467.2C565 463.8 553.6 452.4 548 447C542.4 441.6 538.2 438.2 534.6 435C531 431.8 530.6 430.8 526.2 427.7C521.9 424.6 514 419.8 508.5 416.2C503 412.6 498.2 409.4 493.1 406.2C488 403 480.3 398.4 477.7 396.9Z" fill="none" stroke="#999999" stroke-width="0.6" />
</g>
<g id="labels" style="mix-blend-mode:multiply">
<text x="20.4" y="131.3" font-size="13" textLength="71.5" lengthAdjust="spacingAndGlyphs" fill="#969696">CHINA BANK</text>
<text x="210.4" y="135.7" font-size="13" textLength="32.9" lengthAdjust="spacingAndGlyphs" fill="#969696">CURB</text>
<text x="331.4" y="134.1" font-size="13" textLength="81.5" lengthAdjust="spacingAndGlyphs" fill="#969696">ROAD BORDER</text>
<text x="492.4" y="135.7" font-size="13" textLength="66.9" lengthAdjust="spacingAndGlyphs" fill="#969696">FLOWERBED</text>
<text x="16.4" y="295.7" font-size="13" textLength="58.1" lengthAdjust="spacingAndGlyphs" fill="#969696">VOLCANO</text>
<text x="280.4" y="294.1" font-size="13" textLength="51.5" lengthAdjust="spacingAndGlyphs" fill="#969696">RADIUS</text>
<text x="499.9" y="294.3" font-size="13" textLength="35" lengthAdjust="spacingAndGlyphs" fill="#969696">ROLL</text>
<text x="13.8" y="476.7" font-size="13" textLength="36.1" lengthAdjust="spacingAndGlyphs" fill="#969696">BUMP</text>
<text x="217" y="477.7" font-size="13" textLength="97.5" lengthAdjust="spacingAndGlyphs" fill="#969696">COUNTER-SLOPES</text>
<text x="456.4" y="478.3" font-size="13" textLength="98.1" lengthAdjust="spacingAndGlyphs" fill="#969696">COUNTER-SLOPES</text>
</g>
</svg>
</body>
</html>
